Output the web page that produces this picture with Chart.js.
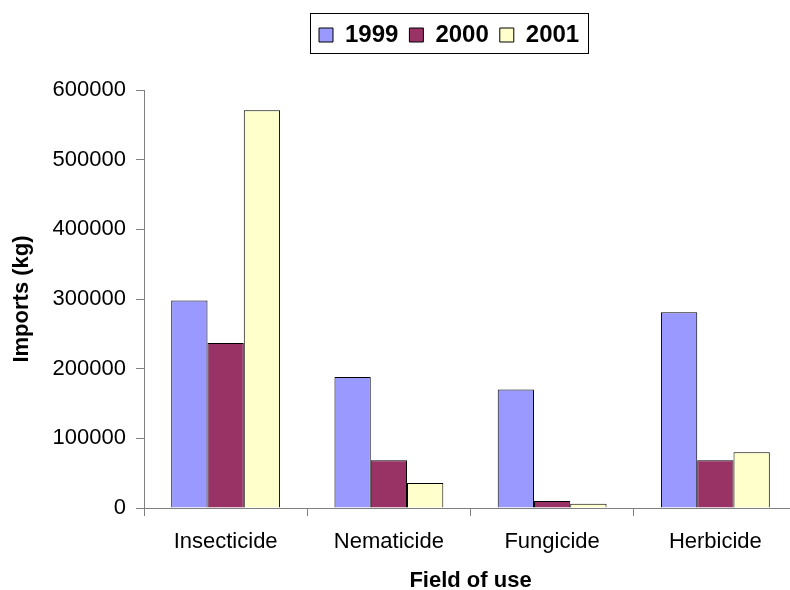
<!DOCTYPE html>
<html>
<head>
<meta charset="utf-8">
<script src="https://cdn.jsdelivr.net/npm/chart.js@4/dist/chart.umd.min.js"></script>
<style>
  html, body { margin: 0; padding: 0; background: #fff; overflow: hidden; }
  #wrap { width: 800px; height: 592px; }
</style>
</head>
<body>
<div id="wrap"><canvas id="c" width="800" height="592"></canvas></div>
<script>
const categories = ['Insecticide', 'Nematicide', 'Fungicide', 'Herbicide'];
const seriesNames = ['1999', '2000', '2001'];
const imports1999 = [298000, 188000, 170000, 281000];
const imports2000 = [237000, 68500, 10000, 68500];
const imports2001 = [571000, 36000, 6000, 80000];
const yTickValues = [0, 100000, 200000, 300000, 400000, 500000, 600000];
const xTitle = 'Field of use';
const yTitle = 'Imports (kg)';

const FONT = "'Liberation Sans', Arial, sans-serif";
Chart.defaults.color = '#000';
Chart.defaults.font.family = FONT;

const legendPlugin = {
  id: 'legendFrame',
  afterLayout(chart) {
    const lg = chart.legend;
    if (!lg) return;
    const w = lg.width, h = lg.height;
    lg.left = 308; lg.right = 308 + w;
    lg.top = 12; lg.bottom = 12 + h;
  },
  afterDraw(chart) {
    const lg = chart.legend;
    if (!lg || !lg.legendHitBoxes || !lg.legendHitBoxes.length) return;
    const hb = lg.legendHitBoxes;
    const first = hb[0], last = hb[hb.length - 1];
    const x0 = Math.round(first.left - 9) + 0.5;
    const x1 = Math.round(last.left + last.width + 9) + 0.5;
    const yc = first.top + first.height / 2;
    const y0 = Math.round(yc - 22) + 0.5;
    const y1 = Math.round(yc + 18) + 0.5;
    const ctx = chart.ctx;
    ctx.save();
    ctx.strokeStyle = '#000';
    ctx.lineWidth = 1;
    ctx.strokeRect(x0, y0, x1 - x0, y1 - y0);
    ctx.restore();
  }
};

new Chart(document.getElementById('c'), {
  type: 'bar',
  data: {
    labels: categories,
    datasets: [
      { label: seriesNames[0], data: imports1999, backgroundColor: '#9999FF', borderColor: '#000', borderWidth: 1 },
      { label: seriesNames[1], data: imports2000, backgroundColor: '#993366', borderColor: '#000', borderWidth: 1 },
      { label: seriesNames[2], data: imports2001, backgroundColor: '#FFFFCC', borderColor: '#000', borderWidth: 1 }
    ]
  },
  options: {
    responsive: false,
    animation: false,
    devicePixelRatio: 1,
    layout: { padding: { left: 0, right: 3, top: 45, bottom: 0 } },
    datasets: { bar: { categoryPercentage: 2 / 3, barPercentage: 1 } },
    plugins: {
      legend: {
        display: true,
        position: 'top',
        align: 'start',
        labels: {
          boxWidth: 14,
          boxHeight: 14,
          padding: 11,
          color: '#000',
          font: { family: FONT, size: 24, weight: 'bold' }
        }
      },
      tooltip: { enabled: false },
      title: { display: false }
    },
    scales: {
      x: {
        offset: true,
        grid: { display: true, offset: true, drawOnChartArea: false, drawTicks: true, tickLength: 8, color: '#808080', lineWidth: 1 },
        border: { display: true, color: '#808080', width: 1 },
        ticks: { padding: 12.8, color: '#000', font: { family: FONT, size: 22 }, maxRotation: 0 },
        title: { display: true, text: xTitle, color: '#000', font: { family: FONT, size: 22, weight: 'bold', lineHeight: 1 }, padding: { top: 2, bottom: 0 } }
      },
      y: {
        min: 0,
        max: 600000,
        afterBuildTicks(scale) { scale.ticks = yTickValues.map(v => ({ value: v })); },
        grid: { display: true, drawOnChartArea: false, drawTicks: true, tickLength: 8, color: '#808080', lineWidth: 1 },
        border: { display: true, color: '#808080', width: 1 },
        ticks: { padding: 10, color: '#000', font: { family: FONT, size: 22 }, callback: v => String(v) },
        title: { display: true, text: yTitle, color: '#000', font: { family: FONT, size: 22, weight: 'bold', lineHeight: 1 }, padding: { top: 10.5, bottom: 10.1 } }
      }
    }
  },
  plugins: [legendPlugin]
});
</script>
</body>
</html>
